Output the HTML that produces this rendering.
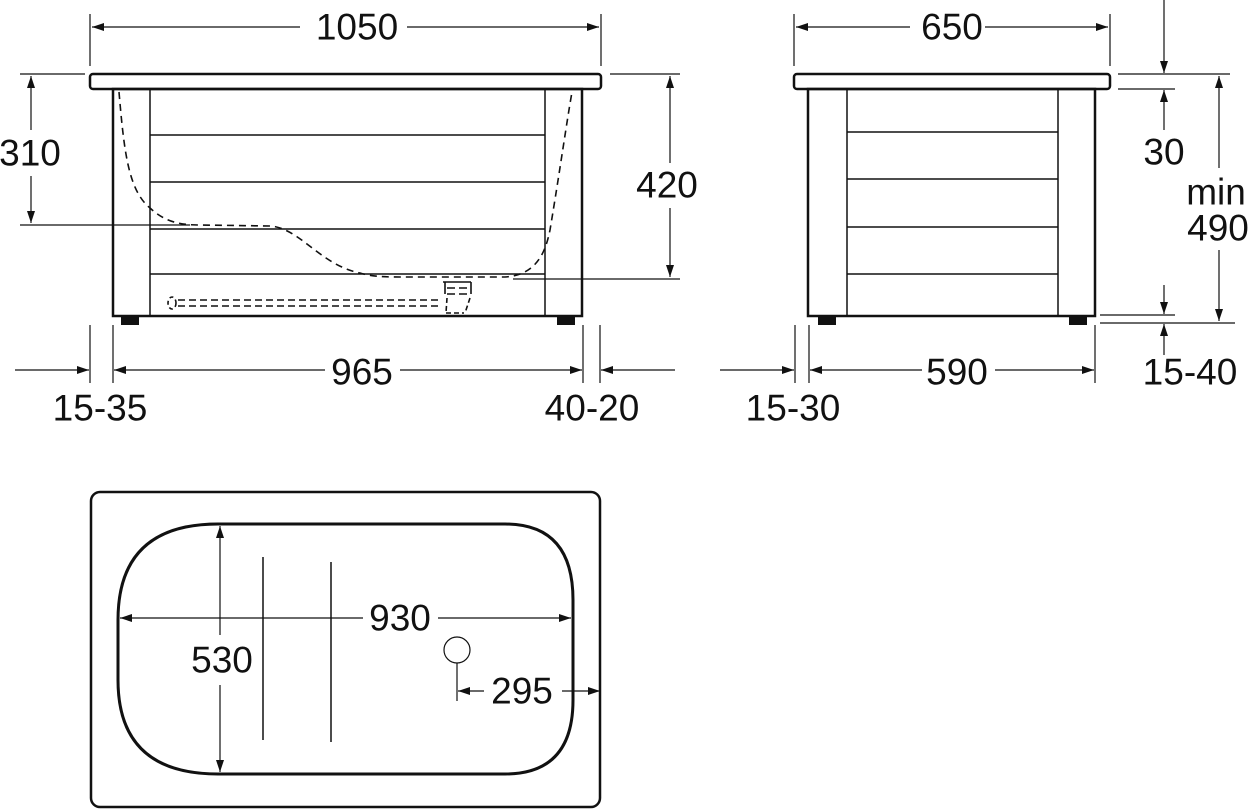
<!DOCTYPE html>
<html><head><meta charset="utf-8"><style>
html,body{margin:0;padding:0;background:#fff;}
svg{display:block;}
text{font-family:"Liberation Sans",sans-serif;font-size:37px;fill:#111;text-anchor:middle;dominant-baseline:central;}
</style></head><body>
<svg width="1250" height="810" viewBox="0 0 1250 810" xmlns="http://www.w3.org/2000/svg">
<defs>
<marker id="a" viewBox="0 0 12 8" refX="12" refY="4" markerWidth="12" markerHeight="8" markerUnits="userSpaceOnUse" orient="auto-start-reverse"><path d="M0,0L12,4L0,8z" fill="#111"/></marker>
</defs>
<g stroke="#111" fill="none">
<!-- FRONT VIEW -->
<rect x="90" y="74" width="511" height="15" rx="3" stroke-width="2.5"/>
<rect x="113" y="89" width="469" height="227" stroke-width="2.5"/>
<line x1="150" y1="89" x2="150" y2="316" stroke-width="1.5"/>
<line x1="545" y1="89" x2="545" y2="316" stroke-width="1.5"/>
<g stroke-width="1.5"><line x1="150" y1="135" x2="545" y2="135"/><line x1="150" y1="182" x2="545" y2="182"/><line x1="150" y1="229" x2="545" y2="229"/><line x1="150" y1="274" x2="545" y2="274"/></g>
<rect x="121" y="316" width="18" height="9" fill="#111" stroke="none"/>
<rect x="557" y="316" width="18" height="9" fill="#111" stroke="none"/>
<path d="M119,92 C124,150 128,190 150,208 C165,222 180,225 200,225 L270,226 C300,228 320,265 360,273 C370,276 380,277 400,277 L505,277 C535,275 545,255 550,230 C560,170 567,120 572,92" stroke-width="1.6" stroke-dasharray="7,5"/>
<g stroke-width="1.6">
<path d="M443,282 h28 M445,282 v12 M471,282 v12 M447,288 h8 M459,288 h8 M447,294 h8 M459,294 h8" />
<path d="M447,298 l-1,15 M470,298 l-5,15 M446,313 h18" stroke-dasharray="5,3"/>
<path d="M178,300 H440 M178,306 H440" stroke-dasharray="7,4"/>
<ellipse cx="172" cy="303" rx="4" ry="6" stroke-dasharray="4,3"/>
</g>
<!-- front dims -->
<g stroke-width="1.2">
<line x1="90" y1="14" x2="90" y2="66"/><line x1="601" y1="14" x2="601" y2="66"/>
<line x1="92" y1="27" x2="300" y2="27" marker-start="url(#a)"/><line x1="407" y1="27" x2="599" y2="27" marker-end="url(#a)"/>
<line x1="20" y1="74" x2="85" y2="74"/><line x1="20" y1="225" x2="190" y2="225"/>
<line x1="31" y1="76" x2="31" y2="130" marker-start="url(#a)"/><line x1="31" y1="176" x2="31" y2="223" marker-end="url(#a)"/>
<line x1="610" y1="74" x2="680" y2="74"/><line x1="513" y1="279" x2="680" y2="279"/>
<line x1="670" y1="76" x2="670" y2="163" marker-start="url(#a)"/><line x1="670" y1="208" x2="670" y2="277" marker-end="url(#a)"/>
<line x1="90" y1="325" x2="90" y2="383"/><line x1="113" y1="325" x2="113" y2="383"/>
<line x1="583" y1="325" x2="583" y2="383"/><line x1="600" y1="325" x2="600" y2="383"/>
<line x1="15" y1="370" x2="89" y2="370" marker-end="url(#a)"/>
<line x1="114" y1="370" x2="325" y2="370" marker-start="url(#a)"/><line x1="400" y1="370" x2="582" y2="370" marker-end="url(#a)"/>
<line x1="601" y1="370" x2="675" y2="370" marker-start="url(#a)"/>
</g>
<!-- SIDE VIEW -->
<rect x="794" y="74" width="316" height="15" rx="3" stroke-width="2.5"/>
<rect x="808" y="89" width="287" height="227" stroke-width="2.5"/>
<line x1="847" y1="89" x2="847" y2="316" stroke-width="1.5"/>
<line x1="1058" y1="89" x2="1058" y2="316" stroke-width="1.5"/>
<g stroke-width="1.5"><line x1="847" y1="132" x2="1058" y2="132"/><line x1="847" y1="179" x2="1058" y2="179"/><line x1="847" y1="227" x2="1058" y2="227"/><line x1="847" y1="274" x2="1058" y2="274"/></g>
<rect x="818" y="316" width="18" height="9" fill="#111" stroke="none"/>
<rect x="1069" y="316" width="18" height="9" fill="#111" stroke="none"/>
<g stroke-width="1.2">
<line x1="794" y1="14" x2="794" y2="66"/><line x1="1110" y1="14" x2="1110" y2="66"/>
<line x1="796" y1="27" x2="910" y2="27" marker-start="url(#a)"/><line x1="985" y1="27" x2="1108" y2="27" marker-end="url(#a)"/>
<line x1="1118" y1="74" x2="1230" y2="74"/><line x1="1118" y1="89" x2="1175" y2="89"/>
<line x1="1164" y1="0" x2="1164" y2="73" marker-end="url(#a)"/><line x1="1164" y1="90" x2="1164" y2="130" marker-start="url(#a)"/>
<line x1="1219" y1="76" x2="1219" y2="168" marker-start="url(#a)"/><line x1="1219" y1="250" x2="1219" y2="321" marker-end="url(#a)"/>
<line x1="1100" y1="315" x2="1175" y2="315"/><line x1="1100" y1="323" x2="1235" y2="323"/>
<line x1="1164" y1="285" x2="1164" y2="314" marker-end="url(#a)"/><line x1="1164" y1="324" x2="1164" y2="355" marker-start="url(#a)"/>
<line x1="795" y1="325" x2="795" y2="383"/><line x1="809" y1="325" x2="809" y2="383"/><line x1="1095" y1="325" x2="1095" y2="383"/>
<line x1="720" y1="370" x2="794" y2="370" marker-end="url(#a)"/>
<line x1="810" y1="370" x2="922" y2="370" marker-start="url(#a)"/><line x1="995" y1="370" x2="1094" y2="370" marker-end="url(#a)"/>
</g>
<!-- TOP VIEW -->
<rect x="91" y="492" width="509" height="315" rx="9" stroke-width="2.5"/>
<path d="M218,524 H505 Q573,524 573,600 V700 Q573,774 505,774 H218 Q118,774 118,680 V620 Q118,524 218,524 Z" stroke-width="3"/>
<line x1="263" y1="557" x2="263" y2="740" stroke-width="1.5"/>
<line x1="331" y1="562" x2="331" y2="742" stroke-width="1.5"/>
<g stroke-width="1.2">
<line x1="220" y1="526" x2="220" y2="635" marker-start="url(#a)"/><line x1="220" y1="685" x2="220" y2="772" marker-end="url(#a)"/>
<line x1="120" y1="618" x2="363" y2="618" marker-start="url(#a)"/><line x1="438" y1="618" x2="571" y2="618" marker-end="url(#a)"/>
<circle cx="457" cy="650" r="13"/>
<line x1="457" y1="663" x2="457" y2="701"/>
<line x1="458" y1="691" x2="484" y2="691" marker-start="url(#a)"/><line x1="562" y1="691" x2="600" y2="691" marker-end="url(#a)"/>
</g>
</g>
<text x="357" y="27">1050</text>
<text x="30" y="153">310</text>
<text x="667" y="185">420</text>
<text x="362" y="372">965</text>
<text x="100" y="408">15-35</text>
<text x="592" y="408">40-20</text>
<text x="952" y="27">650</text>
<text x="1164" y="152">30</text>
<text x="1216" y="192">min</text>
<text x="1218" y="228">490</text>
<text x="1190" y="372">15-40</text>
<text x="957" y="372">590</text>
<text x="793" y="408">15-30</text>
<text x="400" y="618">930</text>
<text x="222" y="660">530</text>
<text x="522" y="691">295</text>
</svg>
</body></html>
